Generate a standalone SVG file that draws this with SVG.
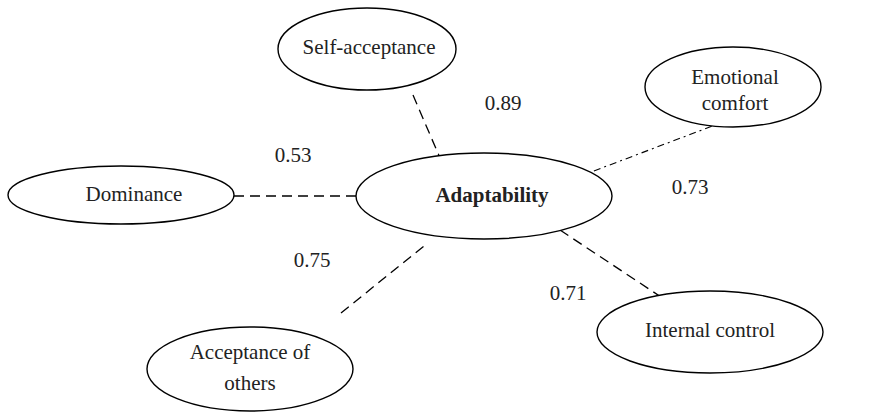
<svg xmlns="http://www.w3.org/2000/svg" width="879" height="415" viewBox="0 0 879 415">
<style>
.n{fill:#fff;stroke:#000;stroke-width:1.4}
.t{font-family:"Liberation Serif","Times New Roman",serif;font-size:21px;fill:#222;text-anchor:middle}
.b{font-weight:bold}
.d{stroke:#000;stroke-width:1.3;fill:none;stroke-dasharray:10 6}
.dd{stroke:#000;stroke-width:1.1;fill:none;stroke-dasharray:7 4 2 4}
</style>
<rect width="879" height="415" fill="#fff"/>
<g id="connectors">
<line class="d" x1="413" y1="95" x2="440" y2="158"/>
<line class="d" x1="234" y1="196" x2="356" y2="196"/>
<line class="dd" x1="578" y1="177" x2="715" y2="125"/>
<line class="d" x1="341" y1="313" x2="424" y2="246"/>
<line class="d" x1="560" y1="230" x2="661" y2="297"/>
</g>
<g id="self-acceptance"><ellipse class="n" cx="367" cy="49" rx="89" ry="41"/><text class="t" x="369" y="54">Self-acceptance</text></g>
<g id="emotional-comfort"><ellipse class="n" cx="733" cy="87" rx="88" ry="40"/><text class="t" x="735" y="84">Emotional</text><text class="t" x="735" y="110">comfort</text></g>
<g id="dominance"><ellipse class="n" cx="121" cy="195" rx="113" ry="29"/><text class="t" x="134" y="201">Dominance</text></g>
<g id="adaptability"><ellipse class="n" cx="484" cy="196" rx="128" ry="43"/><text class="t b" x="492" y="202">Adaptability</text></g>
<g id="acceptance-of-others"><ellipse class="n" cx="250" cy="369" rx="103" ry="42"/><text class="t" x="250" y="359">Acceptance of</text><text class="t" x="250" y="390">others</text></g>
<g id="internal-control"><ellipse class="n" cx="710" cy="332" rx="113" ry="41"/><text class="t" x="710" y="337">Internal control</text></g>
<g id="labels">
<text class="t" x="503" y="110">0.89</text>
<text class="t" x="293" y="162">0.53</text>
<text class="t" x="690" y="194">0.73</text>
<text class="t" x="312" y="267">0.75</text>
<text class="t" x="568" y="300">0.71</text>
</g>
</svg>
